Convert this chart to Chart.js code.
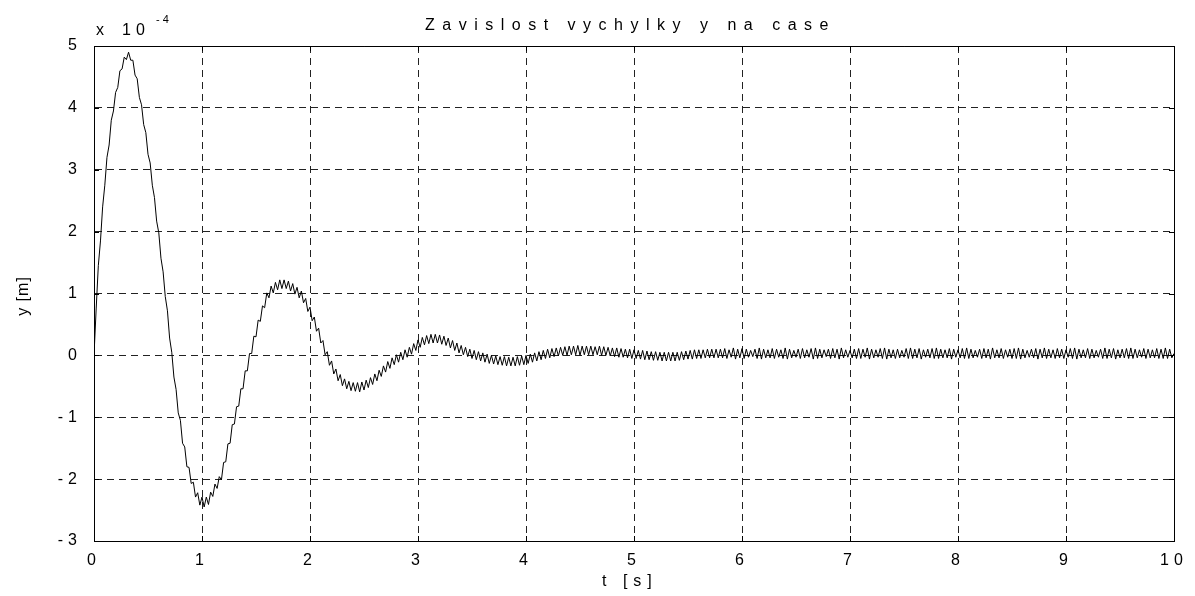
<!DOCTYPE html>
<html>
<head>
<meta charset="utf-8">
<script src="https://cdn.jsdelivr.net/npm/chart.js@4"></script>
<style>
  html, body { margin: 0; padding: 0; background: #fff; }
  #wrap { width: 1195px; height: 596px; }
</style>
</head>
<body>
<div id="wrap"><canvas id="myChart" width="1195" height="596"></canvas></div>
<script>
// vychylka y v jednotkach 1e-4 m, vzorkovano po 0.02 s od t = 0
const startTime = 0;
const sampleStep = 0.02;
const yValues = [
  0, 0.75, 1.45, 1.85, 2.4, 2.75, 3.2, 3.4, 3.8, 3.95,
  4.25, 4.33, 4.6, 4.63, 4.82, 4.78, 4.9, 4.77, 4.77, 4.53,
  4.47, 4.17, 4.05, 3.73, 3.6, 3.25, 3.11, 2.75, 2.55, 2.17,
  1.98, 1.57, 1.35, 0.95, 0.72, 0.28, 0.05, -0.35, -0.55, -0.93,
  -1.05, -1.42, -1.48, -1.8, -1.81, -2.07, -2.05, -2.29, -2.22, -2.42,
  -2.29, -2.45, -2.29, -2.41, -2.21, -2.28, -2.08, -2.15, -1.96, -2.01,
  -1.73, -1.72, -1.43, -1.42, -1.12, -1.11, -0.83, -0.82, -0.54, -0.54,
  -0.25, -0.25, 0.03, 0.03, 0.31, 0.30, 0.57, 0.55, 0.80, 0.77,
  1.01, 0.93, 1.12, 1.01, 1.18, 1.06, 1.22, 1.08, 1.22, 1.08,
  1.20, 1.04, 1.16, 0.99, 1.10, 0.93, 1.04, 0.85, 0.92, 0.71,
  0.78, 0.56, 0.62, 0.39, 0.44, 0.20, 0.24, 0.01, 0.06, -0.16,
  -0.09, -0.30, -0.22, -0.41, -0.31, -0.49, -0.38, -0.54, -0.42, -0.57,
  -0.44, -0.58, -0.44, -0.59, -0.43, -0.56, -0.40, -0.52, -0.36, -0.47,
  -0.30, -0.41, -0.24, -0.34, -0.17, -0.27, -0.10, -0.21, -0.04, -0.15,
  0.01, -0.11, 0.05, -0.07, 0.09, -0.03, 0.13, 0.02, 0.19, 0.08,
  0.25, 0.13, 0.29, 0.17, 0.32, 0.19, 0.34, 0.20, 0.34, 0.20,
  0.33, 0.18, 0.31, 0.16, 0.28, 0.12, 0.24, 0.08, 0.20, 0.04,
  0.16, 0.01, 0.13, -0.02, 0.10, -0.05, 0.08, -0.07, 0.06, -0.09,
  0.04, -0.11, 0.02, -0.13, 0.0, -0.14, -0.01, -0.15, -0.02, -0.16,
  -0.02, -0.17, -0.03, -0.17, -0.03, -0.17, -0.02, -0.16, -0.01, -0.15,
  0.0, -0.13, 0.02, -0.11, 0.04, -0.09, 0.06, -0.07, 0.08, -0.05,
  0.10, -0.04, 0.11, -0.02, 0.12, -0.01, 0.13, 0.0, 0.14, 0.0,
  0.15, 0.01, 0.15, 0.01, 0.16, 0.0, 0.15, 0.01, 0.15, 0.01,
  0.15, 0.01, 0.14, 0.01, 0.15, 0.0, 0.14, 0.0, 0.13, -0.01,
  0.12, -0.02, 0.12, -0.03, 0.11, -0.03, 0.10, -0.04, 0.10, -0.05,
  0.09, -0.05, 0.08, -0.06, 0.08, -0.07, 0.07, -0.07, 0.06, -0.08,
  0.06, -0.08, 0.05, -0.09, 0.05, -0.09, 0.05, -0.09, 0.05, -0.09,
  0.05, -0.08, 0.06, -0.07, 0.07, -0.06, 0.08, -0.06, 0.09, -0.05,
  0.09, -0.05, 0.09, -0.04, 0.10, -0.04, 0.10, -0.04, 0.10, -0.04,
  0.10, -0.04, 0.11, -0.05, 0.09, -0.03, 0.12, -0.06, 0.10, -0.04,
  0.11, -0.05, 0.10, -0.03, 0.08, -0.02, 0.10, -0.05, 0.12, -0.06,
  0.10, -0.04, 0.09, -0.04, 0.11, -0.05, 0.10, -0.03, 0.09, -0.05,
  0.12, -0.06, 0.10, -0.04, 0.08, -0.03, 0.10, -0.05, 0.11, -0.04,
  0.09, -0.03, 0.11, -0.06, 0.12, -0.05, 0.10, -0.04, 0.09, -0.02,
  0.10, -0.05, 0.11, -0.04, 0.10, -0.06, 0.12, -0.04, 0.09, -0.03,
  0.08, -0.04, 0.10, -0.05, 0.11, -0.05, 0.10, -0.03, 0.12, -0.06,
  0.10, -0.04, 0.09, -0.03, 0.11, -0.05, 0.12, -0.06, 0.10, -0.04,
  0.09, -0.05, 0.10, -0.04, 0.08, -0.03, 0.11, -0.05, 0.12, -0.05,
  0.10, -0.04, 0.11, -0.06, 0.09, -0.03, 0.10, -0.04, 0.11, -0.05,
  0.12, -0.05, 0.10, -0.04, 0.09, -0.04, 0.11, -0.06, 0.10, -0.03,
  0.09, -0.04, 0.11, -0.05, 0.12, -0.05, 0.10, -0.04, 0.08, -0.03,
  0.10, -0.05, 0.11, -0.04, 0.10, -0.06, 0.12, -0.04, 0.09, -0.04,
  0.11, -0.05, 0.09, -0.03, 0.10, -0.05, 0.11, -0.05, 0.12, -0.06,
  0.10, -0.04, 0.08, -0.03, 0.10, -0.04, 0.11, -0.06, 0.10, -0.04,
  0.12, -0.05, 0.10, -0.04, 0.09, -0.05, 0.11, -0.04, 0.10, -0.05,
  0.09, -0.03, 0.11, -0.05, 0.12, -0.06, 0.10, -0.04, 0.09, -0.04,
  0.11, -0.05, 0.10, -0.04, 0.08, -0.03, 0.10, -0.05, 0.12, -0.05,
  0.10, -0.04, 0.11, -0.06, 0.09, -0.04, 0.10, -0.04, 0.11, -0.05,
  0.12, -0.05, 0.10, -0.04, 0.09, -0.03, 0.11, -0.05, 0.10, -0.04,
  0.09, -0.04, 0.11, -0.05, 0.10, -0.05, 0.12, -0.05, 0.10, -0.04,
  0.03
];

const xTicks = [0, 1, 2, 3, 4, 5, 6, 7, 8, 9, 10];
const yTicks = [-3, -2, -1, 0, 1, 2, 3, 4, 5];

const titleText = 'Zavislost vychylky y na case';
const xLabel = 't [s]';
const yLabel = 'y [m]';
const expBase = '10';
const expPower = '-4';

const FONT = "'Liberation Sans', Arial, Helvetica, sans-serif";

const points = yValues.map(function (v, i) {
  return { x: startTime + i * sampleStep, y: v };
});

// matlab-like decorations: box, inner ticks, texts
const matlabLook = {
  id: 'matlabLook',
  beforeDraw(chart) {
    const c = chart.ctx;
    c.save();
    c.fillStyle = '#fff';
    c.fillRect(0, 0, chart.width, chart.height);
    c.restore();
    c.letterSpacing = '5px';
  },
  afterDraw(chart) {
    const c = chart.ctx;
    const a = chart.chartArea;
    const xs = chart.scales.x;
    const ys = chart.scales.y;
    c.save();
    c.strokeStyle = '#000';
    c.lineWidth = 1;
    c.setLineDash([]);
    c.beginPath();
    c.rect(Math.round(a.left) + 0.5, Math.round(a.top) + 0.5,
      Math.round(a.right - a.left), Math.round(a.bottom - a.top));
    c.stroke();
    // inner ticks
    c.beginPath();
    xTicks.forEach(function (t) {
      const px = Math.round(xs.getPixelForValue(t)) + 0.5;
      c.moveTo(px, a.top); c.lineTo(px, a.top + 5);
      c.moveTo(px, a.bottom); c.lineTo(px, a.bottom - 5);
    });
    yTicks.forEach(function (t) {
      const py = Math.round(ys.getPixelForValue(t)) + 0.5;
      c.moveTo(a.left, py); c.lineTo(a.left + 5, py);
      c.moveTo(a.right, py); c.lineTo(a.right - 5, py);
    });
    c.stroke();

    c.fillStyle = '#000';
    c.textBaseline = 'alphabetic';
    // title
    c.font = '16px ' + FONT;
    c.letterSpacing = '7.5px';
    c.textAlign = 'left';
    c.fillText(titleText, 425, 30);
    // exponent
    c.letterSpacing = '0px';
    c.fillText('x', 96, 35);
    c.letterSpacing = '5px';
    c.fillText(expBase, 122, 35);
    c.font = '11px ' + FONT;
    c.letterSpacing = '3px';
    c.fillText(expPower, 156, 23);
    // x label
    c.font = '16px ' + FONT;
    c.letterSpacing = '6px';
    c.fillText(xLabel, 602, 586);
    // y label
    c.letterSpacing = '1px';
    c.translate(28, 296);
    c.rotate(-Math.PI / 2);
    c.textAlign = 'center';
    c.fillText(yLabel, 0, 0);
    c.restore();
  }
};

const ctx = document.getElementById('myChart');

const myChart = new Chart(ctx, {
  type: 'line',
  data: {
    datasets: [
      {
        data: points,
        borderColor: '#000',
        borderWidth: 1,
        pointRadius: 0,
        tension: 0,
        fill: false,
      },
    ],
  },
  options: {
    responsive: false,
    animation: false,
    events: [],
    layout: { padding: { top: 46, right: 21, bottom: 0, left: 0 } },
    plugins: {
      legend: { display: false },
      tooltip: { enabled: false },
      title: { display: false },
    },
    scales: {
      x: {
        type: 'linear',
        min: 0,
        max: 10,
        afterBuildTicks: function (scale) {
          scale.ticks = xTicks.map(function (v) { return { value: v }; });
        },
        afterFit: function (scale) { scale.height = 55; },
        grid: { color: '#222', lineWidth: 1, drawTicks: false },
        border: { display: true, color: '#000', width: 1, dash: [7, 5] },
        ticks: {
          color: '#000',
          padding: 10,
          maxRotation: 0,
          font: { family: FONT, size: 16 },
        },
      },
      y: {
        type: 'linear',
        min: -3,
        max: 5,
        afterBuildTicks: function (scale) {
          scale.ticks = yTicks.map(function (v) { return { value: v }; });
        },
        afterFit: function (scale) { scale.width = 94; },
        grid: { color: '#222', lineWidth: 1, drawTicks: false },
        border: { display: true, color: '#000', width: 1, dash: [7, 5] },
        ticks: {
          color: '#000',
          padding: 12,
          font: { family: FONT, size: 16 },
        },
      },
    },
  },
  plugins: [matlabLook],
});
</script>
</body>
</html>
